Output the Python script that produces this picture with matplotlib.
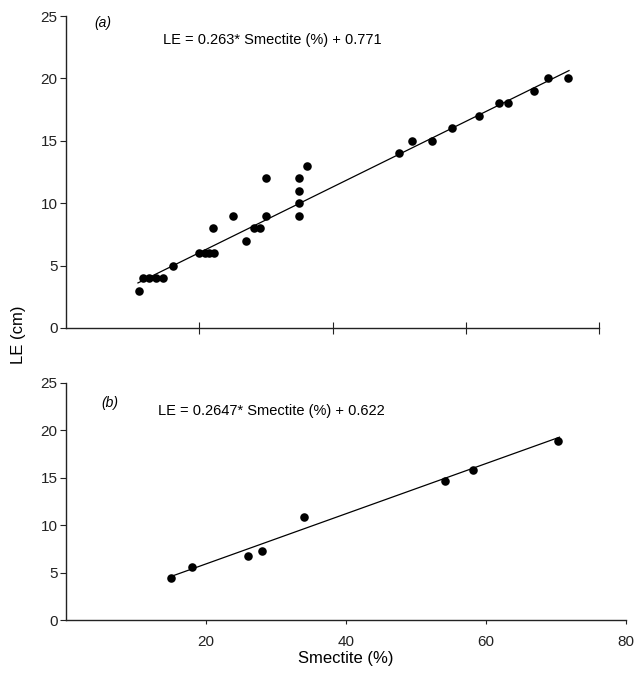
import matplotlib
matplotlib.use("Agg")
import matplotlib.pyplot as plt
import numpy as np

plt.rcParams["font.family"] = ["Liberation Sans", "DejaVu Sans"]

# panel (a): smectite (%) vs LE (cm)
smec_a = [11, 11.5, 12.5, 13.5, 14.5, 16, 20, 20.8, 21.5, 22.2, 22, 25, 27, 28.2, 29.1,
          30, 30, 35, 35, 35, 35, 36.2, 50, 52, 55, 58, 62, 65, 66.3, 70.3, 72.3, 75.3]
le_a = [3, 4, 4, 4, 4, 5, 6, 6, 6, 6, 8, 9, 7, 8, 8,
        12, 9, 12, 11, 10, 9, 13, 14, 15, 15, 16, 17, 18, 18, 19, 20, 20]
fit_a = (0.263, 0.771)
range_a = (10.8, 75.5)

# panel (b)
smec_b = [15, 18, 26, 28, 34, 54.2, 58.2, 70.3]
le_b = [4.4, 5.6, 6.7, 7.3, 10.9, 14.7, 15.8, 18.9]
fit_b = (0.2647, 0.622)
range_b = (15, 70.5)

xticks = [20, 40, 60, 80]
yticks = [0, 5, 10, 15, 20, 25]

W, H = 634, 674
fig = plt.figure(figsize=(W / 100, H / 100), dpi=100)
fig.patch.set_facecolor("white")


def px_axes(x0, x1, y_top, y_bot):
    return fig.add_axes([x0 / W, 1 - y_bot / H, (x1 - x0) / W, (y_bot - y_top) / H])


ax_a = px_axes(66, 599, 16, 328)
ax_b = px_axes(66, 626, 383, 620)


def style(ax, show_xlabels):
    ax.set_xlim(0, 80)
    ax.set_ylim(0, 25)
    for s in ("top", "right"):
        ax.spines[s].set_visible(False)
    for s in ("left", "bottom"):
        ax.spines[s].set_linewidth(1.0)
        ax.spines[s].set_color("#222222")
    ax.set_yticks(yticks)
    ax.set_xticks(xticks)
    ax.tick_params(axis="y", direction="out", length=4, width=0.8, labelsize=11,
                   pad=2, colors="#222222")
    if show_xlabels:
        ax.tick_params(axis="x", direction="out", length=3, width=0.8, labelsize=11,
                       pad=8, colors="#222222")
    else:
        ax.tick_params(axis="x", direction="inout", length=9, width=0.8,
                       labelbottom=False, colors="#222222")


def panel(ax, xs, ys, fit, rng, tag, eq, tag_pos, eq_pos):
    ax.scatter(xs, ys, s=38, color="black", zorder=3, linewidths=0)
    lx = np.array(rng)
    ax.plot(lx, fit[0] * lx + fit[1], color="black", lw=0.9, zorder=2)
    ax.text(*tag_pos, tag, fontsize=10, style="italic", ha="left", va="center")
    ax.text(*eq_pos, eq, fontsize=10.5, ha="left", va="center")


style(ax_a, False)
panel(ax_a, smec_a, le_a, fit_a, range_a, "(a)",
      "LE = 0.263* Smectite (%) + 0.771", (4.3, 24.4), (14.5, 23.1))

style(ax_b, True)
panel(ax_b, smec_b, le_b, fit_b, range_b, "(b)",
      "LE = 0.2647* Smectite (%) + 0.622", (5.0, 22.9), (13.2, 22.0))
ax_b.set_xlabel("Smectite (%)", fontsize=12, labelpad=1)

fig.text(18 / W, 1 - 335 / H, "LE (cm)", rotation=90, fontsize=12,
         ha="center", va="center")

fig.savefig("out.png", dpi=100, facecolor="white")
